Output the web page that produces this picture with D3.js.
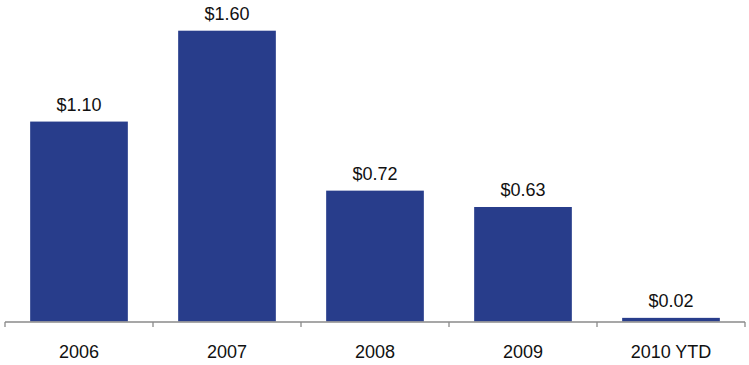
<!DOCTYPE html>
<html>
<head>
<meta charset="utf-8">
<script src="https://cdn.jsdelivr.net/npm/d3@7"></script>
<style>
  body { margin: 0; background: #fff; }
  svg text { font-family: "Liberation Sans", Arial, sans-serif; fill: #111; }
</style>
</head>
<body>
<div id="chart"></div>
<script>
const categories = ['2006', '2007', '2008', '2009', '2010 YTD'];
const values = [1.10, 1.60, 0.72, 0.63, 0.02];

const svgWidth = 749;
const svgHeight = 365;
const axisLeft = 5;
const axisRight = 745;
const baseline = 321.5;
const barColor = '#283d8b';
const axisColor = '#8a8a8a';

const svg = d3.select('#chart').append('svg')
    .attr('width', svgWidth)
    .attr('height', svgHeight);

// x scale: one band per year
const x = d3.scaleBand()
    .domain(categories)
    .range([axisLeft, axisRight])
    .paddingInner(0.34)
    .paddingOuter(0.17);

const y = d3.scaleLinear()
    .domain([0, 1.6])
    .range([baseline, 30.7]);

const fmt = v => '$' + d3.format('.2f')(v);

// Bars
svg.selectAll('rect.bar')
    .data(values)
    .enter()
    .append('rect')
        .attr('class', 'bar')
        .attr('x', (d, i) => x(categories[i]))
        .attr('y', d => y(d))
        .attr('width', x.bandwidth())
        .attr('height', d => baseline - y(d))
        .attr('fill', barColor);

// Value labels
svg.selectAll('text.value')
    .data(values)
    .enter()
    .append('text')
        .attr('class', 'value')
        .attr('x', (d, i) => x(categories[i]) + x.bandwidth() / 2)
        .attr('y', d => y(d) - 11)
        .attr('text-anchor', 'middle')
        .style('font-size', '18px')
        .text(fmt);

// Axis line with ticks at the category boundaries
const step = x.step();
const tickPos = d3.range(categories.length + 1).map(i => axisLeft + i * step);

svg.append('line')
    .attr('x1', axisLeft)
    .attr('x2', axisRight)
    .attr('y1', baseline + 0.5)
    .attr('y2', baseline + 0.5)
    .attr('stroke', axisColor)
    .attr('stroke-width', 1.3);

svg.selectAll('line.tick')
    .data(tickPos)
    .enter()
    .append('line')
        .attr('class', 'tick')
        .attr('x1', d => d)
        .attr('x2', d => d)
        .attr('y1', baseline + 0.5)
        .attr('y2', baseline + 5.5)
        .attr('stroke', axisColor)
        .attr('stroke-width', 1.3);

// Category labels
svg.selectAll('text.cat')
    .data(categories)
    .enter()
    .append('text')
        .attr('class', 'cat')
        .attr('x', d => x(d) + x.bandwidth() / 2)
        .attr('y', 358.3)
        .attr('text-anchor', 'middle')
        .style('font-size', '18px')
        .text(d => d);
</script>
</body>
</html>
